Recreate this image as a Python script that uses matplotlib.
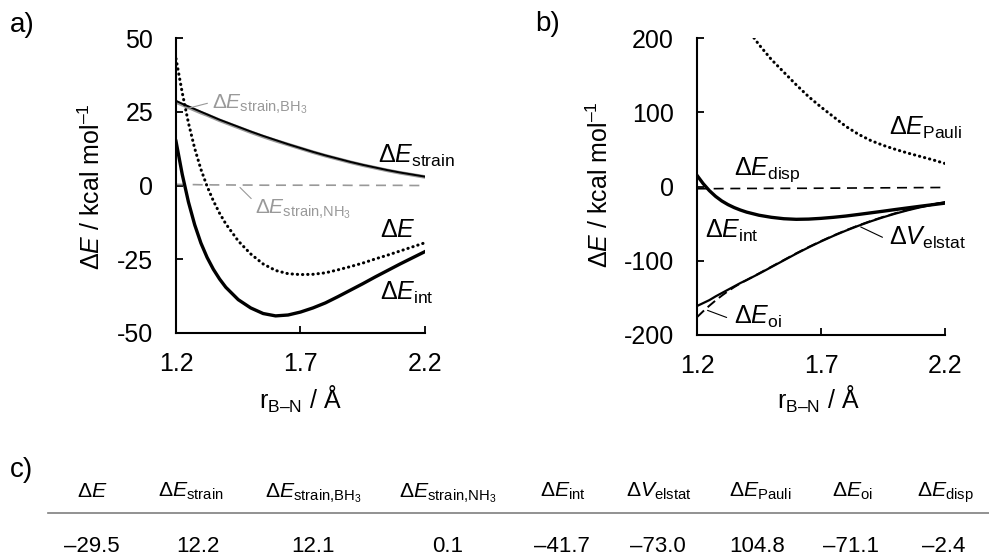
import matplotlib
matplotlib.use("Agg")
import matplotlib.pyplot as plt
from matplotlib.ticker import FixedLocator, FuncFormatter

plt.rcParams['font.family'] = ['Liberation Sans', 'DejaVu Sans']
plt.rcParams['mathtext.fontset'] = 'custom'
plt.rcParams['mathtext.rm'] = 'Liberation Sans'
plt.rcParams['mathtext.it'] = 'Liberation Sans:italic'
plt.rcParams['mathtext.bf'] = 'Liberation Sans:bold'
plt.rcParams['axes.unicode_minus'] = False

# ---------------- data ----------------
r = [1.20, 1.225, 1.25, 1.275, 1.30, 1.325, 1.35, 1.375, 1.40, 1.45, 1.50, 1.55,
     1.60, 1.65, 1.70, 1.75, 1.80, 1.85, 1.90, 1.95, 2.00, 2.05, 2.10, 2.15, 2.20]

dE = [43.0, 31.5, 21.2, 12.6, 5.5, -0.3, -5.2, -9.4, -13.0, -18.8, -23.2, -26.6,
      -28.8, -29.9, -30.2, -30.1, -29.6, -28.6, -27.5, -26.3, -24.9, -23.6, -22.2, -20.8, -19.4]
dE_strain = [28.7, 27.7, 26.8, 25.9, 25.0, 24.1, 23.2, 22.3, 21.5, 19.9, 18.3, 16.8,
             15.4, 14.0, 12.7, 11.4, 10.2, 9.1, 8.0, 7.0, 6.1, 5.2, 4.4, 3.7, 3.0]
dE_strain_BH3 = [28.3, 27.4, 26.5, 25.6, 24.7, 23.9, 23.0, 22.1, 21.3, 19.7, 18.1, 16.6,
                 15.2, 13.9, 12.6, 11.3, 10.1, 9.0, 7.9, 6.9, 6.0, 5.1, 4.3, 3.6, 2.9]
dE_strain_NH3 = [0.4, 0.35, 0.3, 0.3, 0.25, 0.25, 0.2, 0.2, 0.2, 0.15, 0.15, 0.1,
                 0.1, 0.1, 0.1, 0.1, 0.1, 0.1, 0.05, 0.05, 0.05, 0.05, 0.05, 0.0, 0.0]
dE_int = [15.0, 3.8, -5.6, -13.3, -19.5, -24.4, -28.4, -31.7, -34.5, -38.7, -41.5, -43.4,
          -44.2, -43.9, -42.9, -41.5, -39.8, -37.7, -35.5, -33.3, -31.0, -28.8, -26.6, -24.5, -22.4]
dV_elstat = [-161, -157, -153, -148, -143.5, -139, -134.5, -130, -126, -117.5, -108.5, -99.5,
             -90.5, -82, -74, -66.5, -59.5, -53, -47, -41.5, -36.5, -32, -28, -24.5, -21]
dE_oi = [-176, -168, -160.5, -153.5, -147, -141, -135.5, -130.5, -126, -117, -108, -99,
         -90, -81.5, -73.5, -66, -59, -52.5, -46.5, -41, -36, -31.5, -27.5, -24, -21]
dE_disp = [-3.0, -3.0, -2.9, -2.9, -2.8, -2.8, -2.7, -2.7, -2.6, -2.6, -2.5, -2.5,
           -2.4, -2.4, -2.3, -2.2, -2.1, -2.0, -1.9, -1.8, -1.7, -1.6, -1.5, -1.4, -1.3]

r_pauli = [1.43, 1.45, 1.50, 1.55, 1.60, 1.65, 1.70, 1.75, 1.80, 1.85, 1.90, 1.95,
           2.00, 2.05, 2.10, 2.15, 2.20]
dE_pauli = [200, 191, 171, 154, 137, 121, 107, 94, 81, 70.5, 62, 55.5,
            50, 45, 40.5, 36, 31]

x_ticks = [1.2, 1.7, 2.2]
ya_ticks = [-50, -25, 0, 25, 50]
yb_ticks = [-200, -100, 0, 100, 200]

BH3_SUB = r'$\Delta E_{\mathrm{strain}\text{,}\mathrm{BH_3}}$'
NH3_SUB = r'$\Delta E_{\mathrm{strain}\text{,}\mathrm{NH_3}}$'
table_headers = [r'$\Delta E$', r'$\Delta E_{\mathrm{strain}}$', BH3_SUB, NH3_SUB,
                 r'$\Delta E_{\mathrm{int}}$', r'$\Delta V_{\mathrm{elstat}}$',
                 r'$\Delta E_{\mathrm{Pauli}}$', r'$\Delta E_{\mathrm{oi}}$',
                 r'$\Delta E_{\mathrm{disp}}$']
table_values = ['–29.5', '12.2', '12.1', '0.1', '–41.7', '–73.0', '104.8', '–71.1', '–2.4']

# ---------------- figure ----------------
W, H = 989, 560
fig = plt.figure(figsize=(W / 100, H / 100), dpi=100)

def px_axes(l, t, rgt, b):
    return fig.add_axes([l / W, 1 - b / H, (rgt - l) / W, (b - t) / H])

axa = px_axes(176, 38, 425, 333)
axb = px_axes(697, 38, 945, 335)

FS = 18
LFS = 18
GRAY = '#999999'
dots = (0, (0.1, 1.6))

def style(ax, yticks):
    for s in ['top', 'right']:
        ax.spines[s].set_visible(False)
    for s in ['left', 'bottom']:
        ax.spines[s].set_linewidth(1.5)
    ax.set_xlim(1.2, 2.2)
    ax.set_ylim(yticks[0], yticks[-1])
    ax.xaxis.set_major_locator(FixedLocator(x_ticks))
    ax.yaxis.set_major_locator(FixedLocator(yticks))
    ax.xaxis.set_major_formatter(FuncFormatter(lambda v, p: f'{v:.1f}'))
    ax.yaxis.set_major_formatter(FuncFormatter(lambda v, p: f'{v:g}'))
    ax.tick_params(axis='both', direction='in', length=5, width=1.3, labelsize=FS)
    ax.tick_params(axis='y', pad=16.5)
    ax.tick_params(axis='x', pad=14)
    ax.set_ylabel(r'$\Delta E$ / kcal mol$^{\mathrm{–1}}$', fontsize=FS, va='center')
    ax.set_xlabel(r'r$_{\mathrm{B–N}}$ / Å', fontsize=FS)

# ---- panel a ----
style(axa, ya_ticks)
axa.plot(r, dE_strain_NH3, color=GRAY, lw=1.2, dashes=(6, 4))
axa.plot(r, dE_strain_BH3, color=GRAY, lw=2.6)
axa.plot(r, dE_strain, color='black', lw=1.4)
axa.plot(r, dE_int, color='black', lw=2.4)
axa.plot(r, dE, color='black', lw=2.2, linestyle=dots, dash_capstyle='round')
axa.yaxis.set_label_coords(-0.337, 0.497)
axa.xaxis.set_label_coords(0.498, -0.172)

axa.annotate('', xy=(1.236, 25.9), xytext=(1.337, 28.1),
             arrowprops=dict(arrowstyle='-', color=GRAY, lw=0.8))
axa.text(1.345, 26.0, BH3_SUB, color=GRAY, fontsize=15, ha='left', va='baseline')
axa.annotate('', xy=(1.449, 0.0), xytext=(1.51, -5.1),
             arrowprops=dict(arrowstyle='-', color=GRAY, lw=0.8))
axa.text(1.517, -9.5, NH3_SUB, color=GRAY, fontsize=15, ha='left', va='baseline')
axa.text(2.011, 7.8, r'$\Delta E_{\mathrm{strain}}$', fontsize=LFS, ha='left', va='baseline')
axa.text(2.019, -17.6, r'$\Delta E$', fontsize=LFS, ha='left', va='baseline')
axa.text(2.019, -38.9, r'$\Delta E_{\mathrm{int}}$', fontsize=LFS, ha='left', va='baseline')

# ---- panel b ----
style(axb, yb_ticks)
axb.plot(r, dE_disp, color='black', lw=1.2, dashes=(6, 4))
axb.plot(r_pauli, dE_pauli, color='black', lw=2.2, linestyle=dots, dash_capstyle='round')
axb.plot(r, dE_oi, color='black', lw=1.4, dashes=(5, 2.5))
axb.plot(r, dV_elstat, color='black', lw=1.6)
axb.plot(r, dE_int, color='black', lw=2.4)
axb.yaxis.set_label_coords(-0.391, 0.505)
axb.xaxis.set_label_coords(0.488, -0.165)

axb.text(1.975, 70, r'$\Delta E_{\mathrm{Pauli}}$', fontsize=LFS, ha='left', va='baseline')
axb.text(1.35, 15.3, r'$\Delta E_{\mathrm{disp}}$', fontsize=LFS, ha='left', va='baseline')
axb.text(1.232, -69, r'$\Delta E_{\mathrm{int}}$', fontsize=LFS, ha='left', va='baseline')
axb.annotate('', xy=(1.85, -52.9), xytext=(1.958, -70),
             arrowprops=dict(arrowstyle='-', color='black', lw=0.8))
axb.text(1.975, -79, r'$\Delta V_{\mathrm{elstat}}$', fontsize=LFS, ha='left', va='baseline')
axb.annotate('', xy=(1.232, -165.5), xytext=(1.33, -177.7),
             arrowprops=dict(arrowstyle='-', color='black', lw=0.8))
axb.text(1.35, -184.4, r'$\Delta E_{\mathrm{oi}}$', fontsize=LFS, ha='left', va='baseline')

# panel letters
fig.text(10 / W, 1 - 32 / H, 'a)', fontsize=20, ha='left', va='baseline')
fig.text(535 / W, 1 - 31 / H, 'b)', fontsize=20, ha='left', va='baseline')
fig.text(10 / W, 1 - 477 / H, 'c)', fontsize=20, ha='left', va='baseline')

# ---- table c ----
head_x = [92, 191, 313, 448, 563, 659, 760, 853, 946]
val_x = [92, 198, 313, 448, 562, 658, 757, 851, 944]
for hx, h in zip(head_x, table_headers):
    fig.text(hx / W, 1 - 497 / H, h, fontsize=15.3, ha='center', va='baseline')
for vx, v in zip(val_x, table_values):
    fig.text(vx / W, 1 - 552 / H, v, fontsize=16, ha='center', va='baseline')
fig.add_artist(plt.Line2D([48 / W, 1.0], [1 - 513 / H, 1 - 513 / H], color='#7f7f7f', lw=1.2,
                          transform=fig.transFigure))

fig.savefig('out.png', dpi=100)
